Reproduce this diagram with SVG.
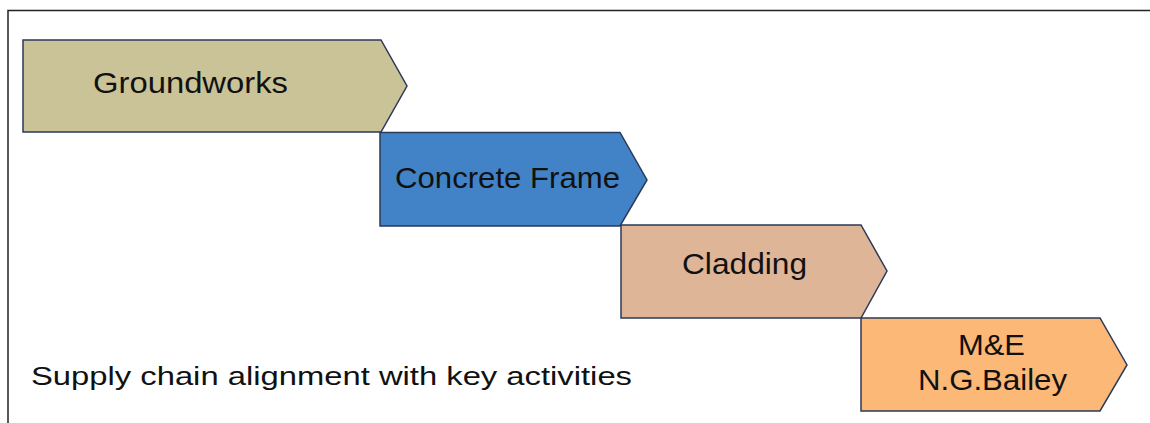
<svg xmlns="http://www.w3.org/2000/svg" width="1150" height="423" viewBox="0 0 1150 423">
<style>
.step{stroke:#2b3a58;stroke-width:1.5;stroke-linejoin:miter}
.lbl{font-family:"Liberation Sans",Arial,sans-serif;font-size:30px;fill:#111}
.cap{font-family:"Liberation Sans",Arial,sans-serif;font-size:26px;fill:#111}
</style>
<rect width="1150" height="423" fill="#ffffff"/>
<g id="frame" fill="none" stroke="#222" stroke-width="1.5">
<polyline points="8,423 8,10.5 1150,10.5"/>
</g>
<g id="connectors"></g>
<g id="groundworks">
<polygon class="step" fill="#c9c397" points="23,40 381,40 407,86 381,132 23,132"/>
<text class="lbl" x="93" y="93" textLength="195" lengthAdjust="spacingAndGlyphs">Groundworks</text>
</g>
<g id="concrete-frame">
<polygon class="step" fill="#4183c6" points="380,132.5 620,132.5 647,180 620,226 380,226"/>
<text class="lbl" x="395" y="188" textLength="225" lengthAdjust="spacingAndGlyphs">Concrete Frame</text>
</g>
<g id="cladding">
<polygon class="step" fill="#deb597" points="621,225 861,225 887,271 861,318 621,318"/>
<text class="lbl" x="682" y="274" textLength="125" lengthAdjust="spacingAndGlyphs">Cladding</text>
</g>
<g id="me">
<polygon class="step" fill="#fbb877" points="861,318 1100,318 1127,365 1100,411 861,411"/>
<text class="lbl" x="958" y="355" textLength="67" lengthAdjust="spacingAndGlyphs">M&amp;E</text>
<text class="lbl" x="918" y="390" textLength="149" lengthAdjust="spacingAndGlyphs">N.G.Bailey</text>
</g>
<g id="caption">
<text class="cap" x="31" y="384.5" textLength="601" lengthAdjust="spacingAndGlyphs">Supply chain alignment with key activities</text>
</g>
</svg>
